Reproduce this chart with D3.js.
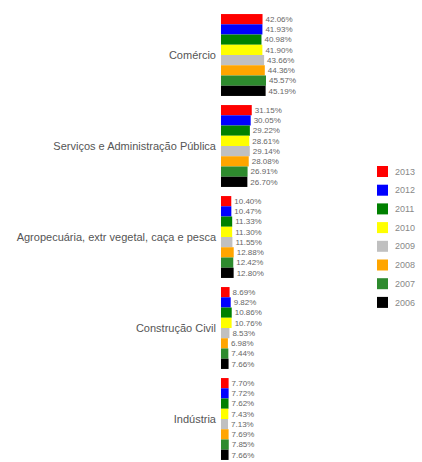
<!DOCTYPE html>
<html><head><meta charset="utf-8">
<script src="https://cdn.jsdelivr.net/npm/d3@7"></script>
<style>body{margin:0;background:#fff}svg{display:block}text{font-family:"Liberation Sans",Arial,sans-serif}</style>
</head><body><svg id="c" width="422" height="462"></svg>
<script>
const categories = ["Comércio","Serviços e Administração Pública","Agropecuária, extr vegetal, caça e pesca","Construção Civil","Indústria"];
const years = ["2013","2012","2011","2010","2009","2008","2007","2006"];
const colors = ["#ff0000","#0000ff","#008000","#ffff00","#c0c0c0","#ffa500","#2e8b2e","#000000"];
const v2013 = [42.06,31.15,10.40,8.69,7.70];
const v2012 = [41.93,30.05,10.47,9.82,7.72];
const v2011 = [40.98,29.22,11.33,10.86,7.62];
const v2010 = [41.90,28.61,11.30,10.76,7.43];
const v2009 = [43.66,29.14,11.55,8.53,7.13];
const v2008 = [44.36,28.08,12.88,6.98,7.69];
const v2007 = [45.57,26.91,12.42,7.44,7.85];
const v2006 = [45.19,26.70,12.80,7.66,7.66];
const series = [v2013,v2012,v2011,v2010,v2009,v2008,v2007,v2006];

const svg = d3.select("#c");
const x0 = 221;
const x = d3.scaleLinear().domain([0, d3.max(series.flat())]).range([0, 45]);
const y = d3.scaleBand().domain(categories).range([9.5, 464.5]).paddingInner(0.1).paddingOuter(0.05);
const yi = d3.scaleBand().domain(years).range([0, y.bandwidth()]);

const g = svg.append("g");
categories.forEach((cat, ci) => {
  const gg = g.append("g").attr("transform", `translate(${x0},${y(cat)})`);
  years.forEach((yr, si) => {
    const val = series[si][ci];
    gg.append("rect").attr("x", 0).attr("y", yi(yr)).attr("width", x(val)).attr("height", yi.bandwidth())
      .attr("fill", colors[si]);
    gg.append("text").attr("x", x(val) + 3).attr("y", yi(yr) + yi.bandwidth()/2).attr("dy", "0.35em")
      .attr("font-size", 8).attr("fill", "#666").text(val.toFixed(2) + "%");
  });
});

const axis = d3.axisLeft(y).tickSize(0).tickPadding(5);
const ag = svg.append("g").attr("transform", `translate(${x0},0)`).call(axis);
ag.select(".domain").remove();
ag.selectAll("text").attr("font-size", 11).attr("fill", "#555").attr("font-family", "Liberation Sans, Arial, sans-serif");

const lg = svg.append("g").attr("transform", "translate(377,166)");
years.forEach((yr, i) => {
  const row = lg.append("g").attr("transform", `translate(0,${i*18.7})`);
  row.append("rect").attr("width", 11).attr("height", 11).attr("fill", colors[i]);
  row.append("text").attr("x", 18).attr("y", 5.5).attr("dy", "0.35em").attr("font-size", 9).attr("fill", "#888").text(yr);
});
</script></body></html>
